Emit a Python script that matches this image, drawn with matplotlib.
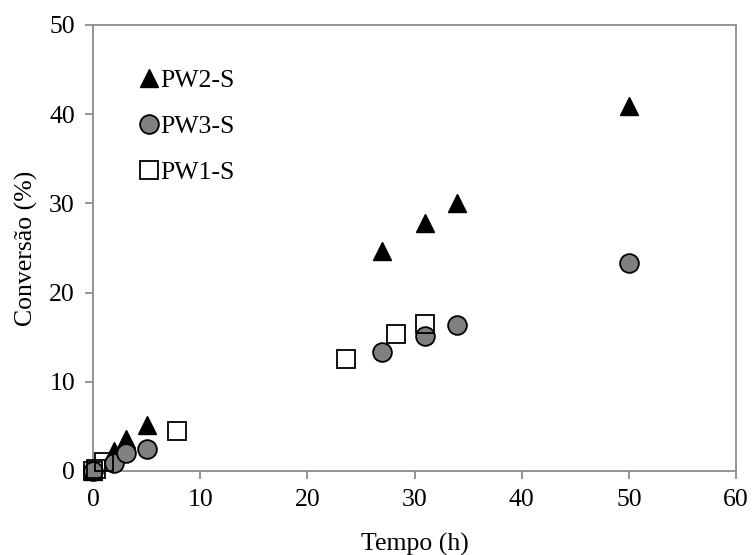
import matplotlib
matplotlib.use("Agg")
import matplotlib.pyplot as plt

# dados
tempo_pw2 = [0, 2, 3.1, 5, 27, 31, 34, 50]
conv_pw2 = [0, 2.2, 3.6, 5.1, 24.7, 27.8, 30.0, 40.9]

tempo_pw3 = [0, 2, 3.1, 5, 27, 31, 34, 50]
conv_pw3 = [0, 0.9, 2.0, 2.5, 13.3, 15.1, 16.4, 23.3]

tempo_pw1 = [0, 0.3, 1, 7.8, 23.6, 28.3, 31]
conv_pw1 = [0, 0.2, 1.0, 4.5, 12.5, 15.3, 16.5]

plt.rcParams['font.family'] = ['Liberation Serif', 'DejaVu Serif']

fig = plt.figure(figsize=(7.53, 5.55), dpi=100)
ax = fig.add_axes([0.1235, 0.1514, 0.854, 0.8036])

ms = 13.5
ax.plot(tempo_pw2, conv_pw2, linestyle='none', marker='^', ms=ms,
        mfc='black', mec='black', mew=1.0, label='PW2-S', zorder=3, clip_on=False)
ax.plot(tempo_pw3, conv_pw3, linestyle='none', marker='o', ms=ms,
        mfc='#808080', mec='black', mew=1.3, label='PW3-S', zorder=4, clip_on=False)
# quadrados sem preenchimento, por cima
ax.plot(tempo_pw1, conv_pw1, linestyle='none', marker='s', ms=ms,
        mfc='none', mec='black', mew=1.3, label='PW1-S', zorder=5, clip_on=False)

ax.set_xlim(0, 60)
ax.set_ylim(0, 50)
ax.set_xticks(range(0, 61, 10))
ax.set_yticks(range(0, 51, 10))

for s in ax.spines.values():
    s.set_color('#8c8c8c')
    s.set_linewidth(1.3)
    s.set_zorder(1)
ax.tick_params(axis='both', direction='out', length=6, width=1.3,
               color='#8c8c8c', labelsize=18.5, pad=7)

ax.set_xlabel('Tempo (h)', fontsize=18.5, labelpad=16)
ax.set_ylabel('Conversão (%)', fontsize=18.5, labelpad=8)

ax.legend(loc='upper left', bbox_to_anchor=(0.057, 0.925), frameon=False,
          fontsize=18.5, handlelength=0.7, handletextpad=0.1,
          labelspacing=0.9, borderaxespad=0)

fig.savefig('out.png', dpi=100)
